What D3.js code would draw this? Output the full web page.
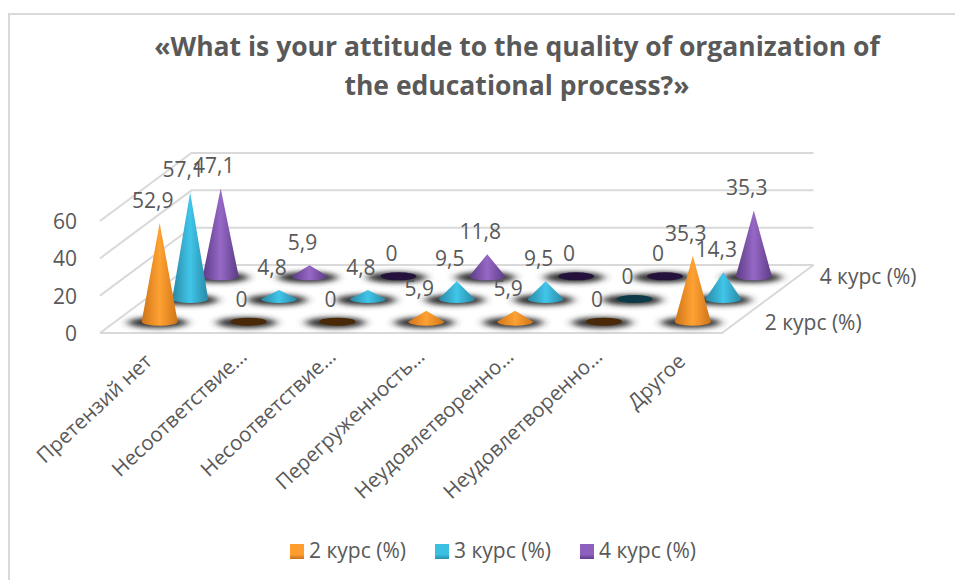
<!DOCTYPE html>
<html>
<head>
<meta charset="utf-8">
<script src="https://cdn.jsdelivr.net/npm/d3@7"></script>
<style>
  html, body { margin: 0; padding: 0; background: #fff; }
  text { font-family: "Open Sans", sans-serif; fill: #595959; }
</style>
</head>
<body>
<div id="chart"></div>
<script>
// Chart values
const categories = ['Претензий нет', 'Несоответствие…', 'Несоответствие…', 'Перегруженность…', 'Неудовлетворенно…', 'Неудовлетворенно…', 'Другое'];
const seriesNames = ['2 курс (%)', '3 курс (%)', '4 курс (%)'];
const course2 = [52.9, 0, 0, 5.9, 5.9, 0, 35.3];
const course3 = [57.1, 4.8, 4.8, 9.5, 9.5, 0, 14.3];
const course4 = [47.1, 5.9, 0, 11.8, 0, 0, 35.3];
const yTicks = [0, 20, 40, 60];
const titleLines = ['«What is your attitude to the quality of organization of', 'the educational process?»'];

const seriesValues = [course2, course3, course4];
const palette = [
  { edge: '#cf7418', mid: '#ffa233', zero: '#4a2908', legend: '#ff9e2e', legendLow: '#c9701c' },
  { edge: '#2a88a4', mid: '#40c6ea', zero: '#0c3a48', legend: '#3cc0e2', legendLow: '#2a8fad' },
  { edge: '#5c3c86', mid: '#9668c6', zero: '#24123c', legend: '#8c60bc', legendLow: '#5f3d8c' },
];

const width = 955, height = 580;
const svg = d3.select('#chart').append('svg')
  .attr('width', width).attr('height', height)
  .style('display', 'block');

// Oblique projection of the floor and walls
const floorLeft = 100, floorRight = 722, floorY = 333;
const depthX = 91.5, depthY = 68;
const xCat = d3.scaleBand().domain(d3.range(categories.length)).range([floorLeft, floorRight]);
const zSeries = d3.scaleBand().domain(d3.range(seriesNames.length)).range([0, 1]);
const yVal = d3.scaleLinear().domain([0, 60]).range([0, 112]);

const zMid = s => zSeries(s) + zSeries.bandwidth() / 2;
const project = (i, s, v) => [
  xCat(i) + xCat.bandwidth() / 2 + zMid(s) * depthX,
  floorY - zMid(s) * depthY - yVal(v),
];

const defs = svg.append('defs');
defs.append('filter').attr('id', 'blur')
  .attr('x', '-40%').attr('y', '-100%').attr('width', '180%').attr('height', '300%')
  .append('feGaussianBlur').attr('stdDeviation', '5 2.6');

palette.forEach((p, s) => {
  const g = defs.append('linearGradient').attr('id', `cone-${s}`);
  g.append('stop').attr('offset', '0%').attr('stop-color', p.edge);
  g.append('stop').attr('offset', '50%').attr('stop-color', p.mid);
  g.append('stop').attr('offset', '100%').attr('stop-color', p.edge);
  const l = defs.append('linearGradient').attr('id', `swatch-${s}`)
    .attr('x1', 0).attr('y1', 0).attr('x2', 0).attr('y2', 1);
  l.append('stop').attr('offset', '0%').attr('stop-color', p.legend);
  l.append('stop').attr('offset', '70%').attr('stop-color', p.legend);
  l.append('stop').attr('offset', '100%').attr('stop-color', p.legendLow);
});

// Outer frame
svg.append('path')
  .attr('d', `M9,${height}V14H${width}`)
  .attr('fill', 'none').attr('stroke', '#d9d9d9').attr('stroke-width', 2);

// Title
svg.append('g').selectAll('text').data(titleLines).join('text')
  .attr('x', 517).attr('y', (d, i) => 56 + i * 39)
  .attr('text-anchor', 'middle')
  .attr('font-size', 26.5).attr('font-weight', 700)
  .text(d => d);

// Walls and floor
const wall = svg.append('g').attr('fill', 'none').attr('stroke', '#d9d9d9').attr('stroke-width', 2);
yTicks.forEach(t => {
  const h = yVal(t);
  wall.append('path').attr('d', d3.line()([
    [floorLeft, floorY - h],
    [floorLeft + depthX, floorY - depthY - h],
    [floorRight + depthX, floorY - depthY - h],
  ]));
});
wall.append('path').attr('d', d3.line()([
  [floorLeft, floorY], [floorRight, floorY], [floorRight + depthX, floorY - depthY],
]));

svg.append('g').selectAll('text').data(yTicks).join('text')
  .attr('x', 77).attr('y', t => floorY - yVal(t) + 8)
  .attr('text-anchor', 'end').attr('font-size', 21)
  .text(t => t);

// Cones, back row first
const rx = 18, ry = 4;
const marks = svg.append('g');
d3.range(seriesNames.length).reverse().forEach(s => {
  categories.forEach((c, i) => {
    const [bx, by] = project(i, s, 0);
    marks.append('ellipse')
      .attr('cx', bx - 2).attr('cy', by + 1).attr('rx', 30).attr('ry', 5.5)
      .attr('fill', '#333').attr('filter', 'url(#blur)');
  });
});
d3.range(seriesNames.length).reverse().forEach(s => {
  seriesValues[s].forEach((v, i) => {
    const [bx, by] = project(i, s, 0);
    const top = project(i, s, v);
    if (v === 0) {
      marks.append('ellipse')
        .attr('cx', bx).attr('cy', by).attr('rx', rx).attr('ry', ry)
        .attr('fill', palette[s].zero);
    } else {
      marks.append('path')
        .attr('d', `M${bx - rx},${by}L${top[0]},${top[1]}L${bx + rx},${by}A${rx},${ry} 0 0 1 ${bx - rx},${by}Z`)
        .attr('fill', `url(#cone-${s})`);
    }
  });
});

// Value labels
const labels = svg.append('g');
seriesValues.forEach((vals, s) => {
  vals.forEach((v, i) => {
    const top = project(i, s, v);
    labels.append('text')
      .attr('x', top[0] - 7).attr('y', top[1] - 15)
      .attr('text-anchor', 'middle').attr('font-size', 21)
      .text(String(v).replace('.', ','));
  });
});

// Category labels: cut-off labels sit a little further out
svg.append('g').selectAll('text').data(categories).join('text')
  .attr('text-anchor', 'end').attr('font-size', 20.5)
  .attr('transform', (d, i) => {
    const cut = d.endsWith('…');
    const x = xCat(i) + xCat.bandwidth() / 2 + (cut ? 15 : 9);
    return `translate(${x},${cut ? 358 : 363}) rotate(-43)`;
  })
  .text(d => d);

// Depth axis labels, every other series
svg.append('g').selectAll('text').data(seriesNames.filter((d, s) => s % 2 === 0)).join('text')
  .attr('x', (d, k) => floorRight + zMid(k * 2) * depthX * 0.9 + 29)
  .attr('y', (d, k) => floorY - zMid(k * 2) * depthY + 8)
  .attr('font-size', 21)
  .text(d => d);

// Legend
const legendX = [290, 435, 580];
const legend = svg.append('g').selectAll('g').data(seriesNames).join('g')
  .attr('transform', (d, s) => `translate(${legendX[s]},544)`);
legend.append('rect').attr('width', 14).attr('height', 15).attr('fill', (d, s) => `url(#swatch-${s})`);
legend.append('text').attr('x', 19).attr('y', 14).attr('font-size', 21).text(d => d);
</script>
</body>
</html>
